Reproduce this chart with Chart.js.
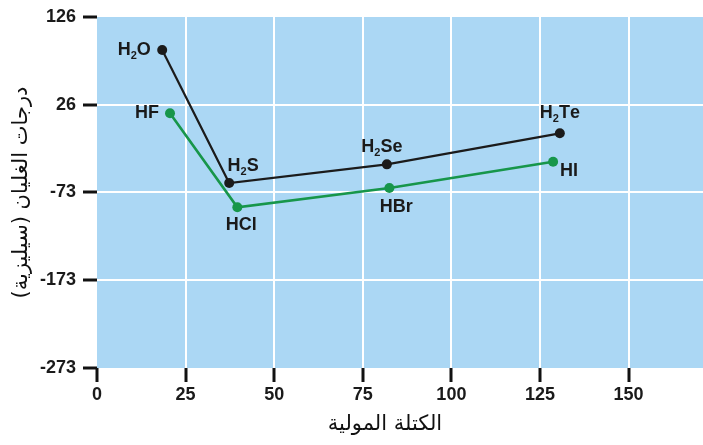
<!DOCTYPE html>
<html>
<head>
<meta charset="utf-8">
<script src="https://cdn.jsdelivr.net/npm/chart.js@4.4.1/dist/chart.umd.min.js"></script>
<style>
  html, body { margin: 0; padding: 0; background: #fff; }
  #wrap { width: 703px; height: 445px; }
</style>
</head>
<body>
<div id="wrap"><canvas id="c"></canvas></div>
<script>
  // group 16 hydrides (black) and hydrogen halides (green)
  const group16Names = ["H2O", "H2S", "H2Se", "H2Te"];
  const group16Mass = [18.4, 37.3, 81.8, 130.6];
  const group16Boil = [88.5, -62.7, -41.5, -6.2];

  const halideNames = ["HF", "HCl", "HBr", "HI"];
  const halideMass = [20.6, 39.6, 82.5, 128.7];
  const halideBoil = [16.5, -90.3, -68.4, -38.5];

  const xTicks = [0, 25, 50, 75, 100, 125, 150];
  const yTicks = [126, 26, -73, -173, -273];

  const xTitle = "الكتلة المولية";
  const yTitle = "درجات الغليان (سيليزية)";

  const PLOT_BG = "#ABD7F4";
  const BLACK = "#1b1b1b";
  const GREEN = "#17964a";
  const LABEL_FONT = "bold 18px 'Liberation Sans', Arial, sans-serif";
  const SUB_FONT = "bold 11px 'Liberation Sans', Arial, sans-serif";

  // label placement per point: [dx, dy] from the marker, text centred there
  const group16LabelPos = [[-28, 0], [14, -17], [-5, -17], [0, -20]];
  const halideLabelPos = [[-23, 0], [4, 18], [7, 19], [16, 9]];

  function toPoints(xs, ys) {
    return xs.map((x, i) => ({ x: x, y: ys[i] }));
  }

  // text with digits drawn as subscripts
  function measureFormula(ctx, s) {
    let w = 0;
    for (const ch of s) {
      ctx.font = /\d/.test(ch) ? SUB_FONT : LABEL_FONT;
      w += ctx.measureText(ch).width;
    }
    return w;
  }
  function drawFormula(ctx, s, cx, cy) {
    let x = cx - measureFormula(ctx, s) / 2;
    ctx.textBaseline = "middle";
    ctx.textAlign = "left";
    for (const ch of s) {
      const sub = /\d/.test(ch);
      ctx.font = sub ? SUB_FONT : LABEL_FONT;
      ctx.fillText(ch, x, sub ? cy + 6 : cy);
      x += ctx.measureText(ch).width;
    }
  }

  const plotBg = {
    id: "plotBg",
    beforeDraw(chart) {
      const a = chart.chartArea, ctx = chart.ctx;
      ctx.save();
      ctx.fillStyle = PLOT_BG;
      ctx.fillRect(a.left, a.top, a.right - a.left, a.bottom - a.top);
      ctx.restore();
    }
  };

  const pointLabels = {
    id: "pointLabels",
    afterDatasetsDraw(chart) {
      const ctx = chart.ctx;
      const sets = [[group16Names, group16LabelPos], [halideNames, halideLabelPos]];
      ctx.save();
      ctx.fillStyle = "#1a1a1a";
      sets.forEach((s, di) => {
        const meta = chart.getDatasetMeta(di);
        s[0].forEach((name, i) => {
          const el = meta.data[i];
          drawFormula(ctx, name, el.x + s[1][i][0], el.y + s[1][i][1]);
        });
      });
      // x axis title, sits a little left of the plot centre in the original
      ctx.font = "21px 'DejaVu Sans', sans-serif";
      ctx.fillStyle = "#111";
      ctx.textAlign = "center";
      ctx.textBaseline = "middle";
      ctx.fillText(xTitle, 385, 425);
      ctx.restore();
    }
  };

  const gridColor = (ctx) => {
    const v = ctx.tick && ctx.tick.value;
    return (v === 0 || v === 126 || v === -273) ? "rgba(0,0,0,0)" : "#ffffff";
  };

  new Chart(document.getElementById("c"), {
    type: "line",
    data: {
      datasets: [
        {
          data: toPoints(group16Mass, group16Boil),
          borderColor: BLACK, backgroundColor: BLACK,
          borderWidth: 2.2, pointRadius: 5, pointBorderWidth: 0, tension: 0
        },
        {
          data: toPoints(halideMass, halideBoil),
          borderColor: GREEN, backgroundColor: GREEN,
          borderWidth: 2.6, pointRadius: 5, pointBorderWidth: 0, tension: 0
        }
      ]
    },
    options: {
      responsive: true,
      maintainAspectRatio: false,
      animation: false,
      layout: { autoPadding: false, padding: { top: 17, right: 0, left: 0, bottom: 0 } },
      plugins: { legend: { display: false }, tooltip: { enabled: false } },
      scales: {
        x: {
          type: "linear", min: 0, max: 171,
          afterBuildTicks: (s) => { s.ticks = xTicks.map(v => ({ value: v })); },
          afterFit: (s) => { s.height = 77; s.paddingRight = 0; s.paddingLeft = 0; },
          border: { display: false },
          grid: { color: gridColor, lineWidth: 2, tickColor: "#111", tickWidth: 3, tickLength: 14 },
          ticks: { color: "#1a1a1a", padding: 2, font: { family: "'Liberation Sans', Arial, sans-serif", size: 18, weight: "bold" } }
        },
        y: {
          type: "linear", min: -273, max: 126,
          afterBuildTicks: (s) => { s.ticks = yTicks.map(v => ({ value: v })); },
          afterFit: (s) => { s.width = 97; s.paddingTop = 0; s.paddingBottom = 0; },
          border: { display: false },
          grid: { color: gridColor, lineWidth: 2, tickColor: "#111", tickWidth: 3, tickLength: 14 },
          ticks: { color: "#1a1a1a", padding: 7, font: { family: "'Liberation Sans', Arial, sans-serif", size: 18, weight: "bold" } },
          title: { display: true, text: yTitle, color: "#111", padding: { top: 9, bottom: 0 },
                   font: { family: "'DejaVu Sans', sans-serif", size: 21 } }
        }
      }
    },
    plugins: [plotBg, pointLabels]
  });
</script>
</body>
</html>
